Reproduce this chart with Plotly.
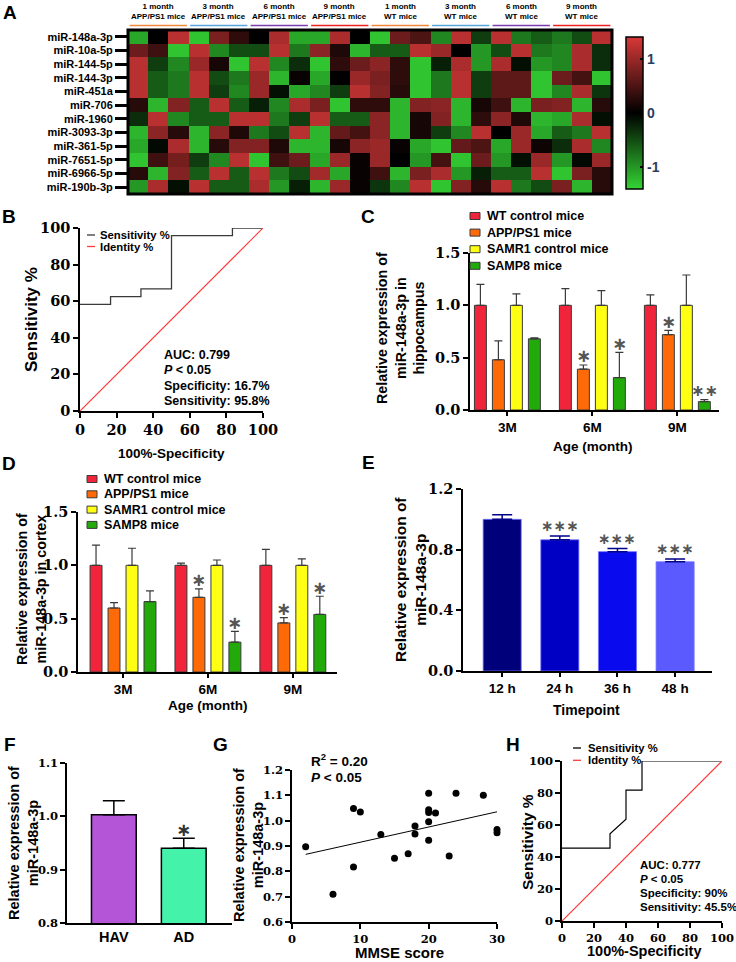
import plotly.graph_objects as go

# ---------------- data ----------------
heat_rows = ["miR-148a-3p", "miR-10a-5p", "miR-144-5p", "miR-144-3p", "miR-451a", "miR-706",
             "miR-1960", "miR-3093-3p", "miR-361-5p", "miR-7651-5p", "miR-6966-5p", "miR-190b-3p"]
heat_groups = ["1 month<br>APP/PS1 mice", "3 month<br>APP/PS1 mice", "6 month<br>APP/PS1 mice",
               "9 month<br>APP/PS1 mice", "1 month<br>WT mice", "3 month<br>WT mice",
               "6 month<br>WT mice", "9 month<br>WT mice"]
heat_group_colors = ["#f0883c", "#5aa4dc", "#7b3fae", "#ee2222",
                     "#f0883c", "#5aa4dc", "#7b3fae", "#ee2222"]
heat_values = [
    [-1.1, 0.0, 1.2, -1.3, 0.8, 0.3, 0.0, 1.1, -1.1, -1.1, 1.1, 0.0, -1.3, 0.7, 0.5, -0.9, 1.2, -0.4, 1.2, -0.8, -0.6, -0.8, -0.5, 1.2],
    [0.7, 0.4, -1.3, 1.2, -0.9, -0.5, -0.5, 1.2, -0.8, 0.9, 0.2, -1.2, -0.6, -0.6, 1.2, 1.0, 0.0, -1.0, -0.5, 1.2, -0.8, -0.9, 1.1, -0.3],
    [1.2, -0.4, -0.9, 1.0, 0.15, -1.3, 1.2, -0.9, -0.3, -1.3, 0.3, 0.7, 0.9, 0.3, -1.3, -0.2, 1.1, -1.0, 1.1, -0.1, -1.0, -0.9, 1.1, -0.3],
    [1.2, -0.6, -0.8, 1.2, -0.5, -0.8, 1.0, -1.2, 0.05, -1.1, 0.0, 1.0, 0.8, 0.3, -1.3, -0.8, 1.2, -0.4, 0.6, 0.6, -1.3, 0.7, 0.45, -1.3],
    [1.2, -0.6, -0.8, 1.2, -0.4, -0.9, 1.0, -0.1, -1.1, -0.9, -0.4, 1.2, 0.85, 0.25, -1.3, -0.8, 1.2, -0.4, 0.6, 0.6, -1.3, -0.9, 1.1, -0.35],
    [0.25, -1.2, 0.85, -0.6, 1.2, -0.6, -0.2, -0.9, 1.1, 0.8, -1.3, 0.3, 0.3, -1.2, 0.85, 0.9, -1.2, 0.15, 0.4, -1.2, 0.8, 0.85, -1.2, 0.25],
    [-0.3, 1.2, -0.9, -0.6, -0.6, 1.2, 1.2, -0.8, -0.4, 1.2, -0.6, -0.6, 0.9, -1.2, 0.15, 0.85, -1.2, 0.3, 0.9, 0.2, -1.2, -1.1, 1.1, -0.1],
    [-1.2, 0.9, 0.25, -1.2, 0.9, 0.2, -0.8, -0.5, 1.2, -1.2, 0.65, 0.45, 0.9, -1.2, 0.15, -0.4, -0.9, 1.2, 0.0, 1.0, -1.1, -0.6, -0.8, 1.2],
    [-1.1, -0.05, 1.1, -1.2, 0.25, 0.85, 0.85, 0.2, -1.2, -1.2, 0.15, 0.9, 1.0, 0.05, -1.1, -1.3, 0.65, 0.5, -1.1, 1.0, 0.1, -0.3, 1.1, -0.9],
    [-1.3, 0.4, 0.75, -0.4, -0.9, 1.2, -1.3, 0.4, 0.7, -1.1, 1.0, 0.05, 1.0, 0.0, -1.0, 0.45, -1.3, 0.7, -1.0, -0.1, 1.0, -1.0, -0.05, 1.0],
    [0.25, -1.2, 0.85, -0.6, 1.2, -0.6, 1.2, -0.8, -0.5, 1.05, -1.1, 0.05, 0.4, -1.2, 0.8, 1.1, -1.0, -0.2, -0.6, -0.6, 1.2, -1.3, 0.8, 0.25],
    [-1.0, 1.1, -0.1, 1.2, -0.6, -0.6, 1.1, -1.0, -0.2, -1.2, 1.0, 0.05, -0.35, -0.9, 1.2, -1.3, 0.85, 0.25, 1.2, -0.8, -0.5, 0.8, -1.2, 0.25],
]

roc_b_x = [0, 16.7, 16.7, 33.3, 33.3, 50, 50, 83.3, 83.3, 100]
roc_b_y = [58.3, 58.3, 62.5, 62.5, 66.7, 66.7, 95.8, 95.8, 100, 100]
identity = [0, 100]
roc_b_stats = ["AUC: 0.799", "<i>P</i> < 0.05", "Specificity: 16.7%", "Sensitivity: 95.8%"]

ages = ["3M", "6M", "9M"]
mouse_groups = ["WT control mice", "APP/PS1 mice", "SAMR1 control mice", "SAMP8 mice"]
mouse_colors = ["#f0243a", "#ff6a08", "#ffff14", "#22aa0a"]
hip_mean = [[1.0, 1.0, 1.0], [0.48, 0.39, 0.72], [1.0, 1.0, 1.0], [0.68, 0.31, 0.08]]
hip_err = [[0.20, 0.16, 0.10], [0.18, 0.04, 0.04], [0.11, 0.14, 0.29], [0.01, 0.24, 0.02]]
hip_stars = [["", "", ""], ["", "*", "*"], ["", "", ""], ["", "*", "**"]]
ctx_mean = [[1.0, 1.0, 1.0], [0.60, 0.70, 0.46], [1.0, 1.0, 1.0], [0.66, 0.28, 0.54]]
ctx_err = [[0.19, 0.02, 0.15], [0.05, 0.08, 0.05], [0.16, 0.05, 0.06], [0.10, 0.10, 0.17]]
ctx_stars = [["", "", ""], ["", "*", "*"], ["", "", ""], ["", "*", "*"]]

timepoints = ["12 h", "24 h", "36 h", "48 h"]
time_mean = [1.0, 0.865, 0.787, 0.72]
time_err = [0.03, 0.025, 0.02, 0.018]
time_colors = ["#00007a", "#0000c4", "#0a0aee", "#5a5aff"]
time_stars = ["", "***", "***", "***"]

cohorts = ["HAV", "AD"]
cohort_mean = [1.003, 0.94]
cohort_err = [0.026, 0.019]
cohort_colors = ["#b455d8", "#44f2aa"]
cohort_stars = ["", "*"]

mmse = [2, 6, 9, 9, 10, 13, 15, 17, 18, 18, 20, 20, 20, 20, 20, 21, 23, 24, 28, 30, 30]
expr = [0.897, 0.71, 1.048, 0.817, 1.034, 0.945, 0.852, 0.869, 0.979, 0.947, 1.108, 1.043,
        1.032, 0.996, 0.923, 1.03, 0.861, 1.108, 1.10, 0.965, 0.952]
fit_x = [2, 30]
fit_y = [0.867, 1.035]

roc_h_x = [0, 30, 30, 40, 40, 50, 50, 100]
roc_h_y = [45.5, 45.5, 54.5, 63.6, 81.8, 81.8, 100, 100]
roc_h_stats = ["AUC: 0.777", "<i>P</i> < 0.05", "Specificity: 90%", "Sensitivity: 45.5%"]

# ---------------- helpers ----------------
W, H = 736, 962
SANS = "Liberation Sans, Arial, sans-serif"
SERIF = "DejaVu Serif, serif"
STAR = "DejaVu Sans, sans-serif"


def dx(a, b):
    return [a / W, b / W]


def dy(top, bottom):
    return [1 - bottom / H, 1 - top / H]


def fx(x):
    return x / W


def fy(y):
    return 1 - y / H


def ann(text, x, y, size=12, xanchor="center", yanchor="middle", angle=0,
        color="black", family=SANS, align="center"):
    return dict(text=text, x=fx(x), y=fy(y), xref="paper", yref="paper",
                xanchor=xanchor, yanchor=yanchor, textangle=angle, showarrow=False,
                align=align, font=dict(family=family, size=size, color=color, weight="bold"))


def star(text, x, y, xref, yref, size=20, color="#555555", lift=9):
    return dict(text=text.replace("*", "\u2217"), x=x, y=y, xref=xref, yref=yref,
                xanchor="center", yanchor="middle", yshift=lift, showarrow=False,
                font=dict(family=STAR, size=size, color=color, weight="bold"))


def axis(**kw):
    d = dict(showline=True, linecolor="black", linewidth=1.5, ticks="outside", ticklen=5,
             tickwidth=1.5, tickcolor="black", showgrid=False, zeroline=False, fixedrange=True)
    d.update(kw)
    return d


fig = go.Figure()
annotations = []
shapes = []

# ---------------- A: heatmap ----------------
fig.add_trace(go.Heatmap(
    z=heat_values, x=list(range(24)), y=heat_rows,
    colorscale=[[0, "#34d434"], [0.5, "#000000"], [1, "#d83838"]],
    zmin=-1.4, zmax=1.4, xaxis="x", yaxis="y",
    colorbar=dict(x=fx(626), xanchor="left", y=fy(113), yanchor="middle",
                  len=152 / H, lenmode="fraction", thickness=17, thicknessmode="pixels",
                  outlinewidth=1.5, outlinecolor="black", xpad=0, ypad=0,
                  tickvals=[-1, 0, 1], ticktext=["-1", "0", "1"], ticks="inside",
                  ticklen=3, tickwidth=1.5, tickcolor="black",
                  tickfont=dict(family=SANS, size=14, weight="bold")),
))
shapes.append(dict(type="rect", xref="x domain", yref="y domain", x0=0, x1=1, y0=0, y1=1,
                   line=dict(color="black", width=3)))
for g, (lab, col) in enumerate(zip(heat_groups, heat_group_colors)):
    annotations.append(dict(text=lab, x=g * 3 + 1, y=fy(22.5), xref="x", yref="paper",
                            xanchor="center", yanchor="bottom", showarrow=False,
                            font=dict(family=SANS, size=8, color="black", weight="bold")))
    shapes.append(dict(type="line", xref="x", yref="paper", x0=g * 3 - 0.42, x1=g * 3 + 2.42,
                       y0=fy(25.5), y1=fy(25.5), line=dict(color=col, width=1.6)))
annotations.append(ann("A", 10, 13, size=19))

# ---------------- B: ROC ----------------
fig.add_trace(go.Scatter(x=roc_b_x, y=roc_b_y, mode="lines", line=dict(color="#3a3a3a", width=1.3),
                         xaxis="x2", yaxis="y2", cliponaxis=False, showlegend=False))
fig.add_trace(go.Scatter(x=identity, y=identity, mode="lines", line=dict(color="#ff3b3b", width=1.2),
                         xaxis="x2", yaxis="y2", cliponaxis=False, showlegend=False))
annotations.append(ann("B", 9, 216, size=19))
annotations.append(ann("Sensitivity %", 31, 320, size=17, angle=-90))
annotations.append(ann("100%-Specificity", 171, 453, size=13.5))
for i, t in enumerate(roc_b_stats):
    annotations.append(ann(t, 162, 355 + i * 15.3, size=12.5, xanchor="left"))
for i, (t, c) in enumerate(zip(["Sensitivity %", "Identity %"], ["#3a3a3a", "#ff3b3b"])):
    yy = 235 + i * 11.5
    shapes.append(dict(type="line", xref="paper", yref="paper", x0=fx(87), x1=fx(95),
                       y0=fy(yy), y1=fy(yy), line=dict(color=c, width=1.3)))
    annotations.append(ann(t, 98, yy, size=11.3, xanchor="left"))

# ---------------- C: hippocampus ----------------
slot = (1 - 0.153) / 4
for i, g in enumerate(mouse_groups):
    fig.add_trace(go.Bar(x=ages, y=hip_mean[i], name=g,
                         marker=dict(color=mouse_colors[i], line=dict(color="#3a3a3a", width=1)),
                         error_y=dict(type="data", array=hip_err[i], arrayminus=[0] * 3,
                                      symmetric=False, color="#3a3a3a", thickness=1.2, width=4),
                         xaxis="x3", yaxis="y3", showlegend=False))
    for k in range(3):
        if hip_stars[i][k]:
            annotations.append(star(hip_stars[i][k], k + (i - 1.5) * slot,
                                    hip_mean[i][k] + hip_err[i][k], "x3", "y3",
                                    size=18 if len(hip_stars[i][k]) == 1 else 16))
annotations.append(ann("C", 368, 216, size=19))
annotations.append(ann("Relative expression of<br>miR-148a-3p in<br>hippocampus", 400, 328,
                       size=14.3, angle=-90))
annotations.append(ann("Age (month)", 592, 446, size=13.5))
for i, (g, c) in enumerate(zip(mouse_groups, mouse_colors)):
    yy = 216 + i * 16.6
    shapes.append(dict(type="rect", xref="paper", yref="paper", x0=fx(470), x1=fx(480),
                       y0=fy(yy + 3.5), y1=fy(yy - 3.5), fillcolor=c,
                       line=dict(color="#3a3a3a", width=1)))
    annotations.append(ann(g, 485, yy, size=12.5, xanchor="left"))

# ---------------- D: cortex ----------------
for i, g in enumerate(mouse_groups):
    fig.add_trace(go.Bar(x=ages, y=ctx_mean[i], name=g,
                         marker=dict(color=mouse_colors[i], line=dict(color="#3a3a3a", width=1)),
                         error_y=dict(type="data", array=ctx_err[i], arrayminus=[0] * 3,
                                      symmetric=False, color="#3a3a3a", thickness=1.2, width=4),
                         xaxis="x4", yaxis="y4", showlegend=False))
    for k in range(3):
        if ctx_stars[i][k]:
            annotations.append(star(ctx_stars[i][k], k + (i - 1.5) * slot,
                                    ctx_mean[i][k] + ctx_err[i][k], "x4", "y4", size=18))
annotations.append(ann("D", 9, 463, size=19))
annotations.append(ann("Relative expression of<br>miR-148a-3p in cortex", 31, 589,
                       size=14.3, angle=-90))
annotations.append(ann("Age (month)", 208, 705, size=13.5))
for i, (g, c) in enumerate(zip(mouse_groups, mouse_colors)):
    yy = 479 + i * 15.3
    shapes.append(dict(type="rect", xref="paper", yref="paper", x0=fx(87), x1=fx(97),
                       y0=fy(yy + 3.5), y1=fy(yy - 3.5), fillcolor=c,
                       line=dict(color="#3a3a3a", width=1)))
    annotations.append(ann(g, 102, yy, size=12.5, xanchor="left"))

# ---------------- E: timepoints ----------------
fig.add_trace(go.Bar(x=timepoints, y=time_mean, width=0.66,
                     marker=dict(color=time_colors, line=dict(color="#7070ff", width=0.8)),
                     error_y=dict(type="data", array=time_err, arrayminus=[0] * 4, symmetric=False,
                                  color="#00008a", thickness=1.5, width=10),
                     xaxis="x5", yaxis="y5", showlegend=False))
for k, s in enumerate(time_stars):
    if s:
        annotations.append(star(s, k, time_mean[k] + time_err[k], "x5", "y5", size=15, lift=10))
annotations.append(ann("E", 368, 462, size=19))
annotations.append(ann("Relative expression of<br>miR-148a-3p", 410, 580, size=15.5, angle=-90))
annotations.append(ann("Timepoint", 586, 710, size=14))

# ---------------- F: cohort ----------------
fig.add_trace(go.Bar(x=cohorts, y=cohort_mean, width=0.64,
                     marker=dict(color=cohort_colors, line=dict(color="black", width=1.5)),
                     error_y=dict(type="data", array=cohort_err, arrayminus=[0] * 2, symmetric=False,
                                  color="black", thickness=1.5, width=11),
                     xaxis="x6", yaxis="y6", showlegend=False))
for k, s in enumerate(cohort_stars):
    if s:
        annotations.append(star(s, k, cohort_mean[k] + cohort_err[k], "x6", "y6",
                                size=18, color="#333333"))
annotations.append(ann("F", 10, 744, size=19))
annotations.append(ann("Relative expression of<br>miR-148a-3p", 23, 843, size=14.5, angle=-90))

# ---------------- G: correlation ----------------
fig.add_trace(go.Scatter(x=fit_x, y=fit_y, mode="lines", line=dict(color="black", width=1),
                         xaxis="x7", yaxis="y7", showlegend=False))
fig.add_trace(go.Scatter(x=mmse, y=expr, mode="markers", marker=dict(color="black", size=7),
                         xaxis="x7", yaxis="y7", showlegend=False, cliponaxis=False))
annotations.append(ann("G", 220, 744, size=19))
annotations.append(ann("Relative expression of<br>miR-148a-3p", 248, 845, size=14.5, angle=-90))
annotations.append(ann("R<sup>2</sup> = 0.20", 309, 760, size=13.5, xanchor="left"))
annotations.append(ann("<i>P</i> < 0.05", 309, 777, size=13.5, xanchor="left"))
annotations.append(ann("MMSE score", 399, 952, size=15))

# ---------------- H: ROC ----------------
fig.add_trace(go.Scatter(x=roc_h_x, y=roc_h_y, mode="lines", line=dict(color="black", width=1.2),
                         xaxis="x8", yaxis="y8", cliponaxis=False, showlegend=False))
fig.add_trace(go.Scatter(x=identity, y=identity, mode="lines", line=dict(color="#ff3b3b", width=1.2),
                         xaxis="x8", yaxis="y8", cliponaxis=False, showlegend=False))
annotations.append(ann("H", 513, 744, size=19))
annotations.append(ann("Sensitivity %", 527, 842, size=15.5, angle=-90))
annotations.append(ann("100%-Specificity", 644, 951, size=14.5))
for i, t in enumerate(roc_h_stats):
    annotations.append(ann(t, 638, 865 + i * 14, size=11.5, xanchor="left"))
for i, (t, c) in enumerate(zip(["Sensitivity %", "Identity %"], ["black", "#ff3b3b"])):
    yy = 748 + i * 12.3
    shapes.append(dict(type="line", xref="paper", yref="paper", x0=fx(573), x1=fx(581),
                       y0=fy(yy), y1=fy(yy), line=dict(color=c, width=1.3)))
    annotations.append(ann(t, 586, yy, size=11.3, xanchor="left"))

# ---------------- layout ----------------
serif_big = dict(family=SERIF, size=14.5, color="black", weight="bold")
serif_small = dict(family=SERIF, size=11.5, color="black", weight="bold")
sans_cat = dict(family=SANS, size=13.5, color="black", weight="bold")

fig.update_layout(
    width=W, height=H, margin=dict(l=0, r=0, t=0, b=0, autoexpand=False),
    paper_bgcolor="white", plot_bgcolor="white",
    barmode="group", bargap=0.153, bargroupgap=0.335,
    showlegend=False,
    annotations=annotations, shapes=shapes,
    xaxis=dict(domain=dx(128, 612), range=[-0.5, 23.5], showticklabels=False, showgrid=False,
               zeroline=False, showline=False, ticks="", fixedrange=True),
    yaxis=dict(domain=dy(30, 194), autorange="reversed", showgrid=False, zeroline=False,
               showline=False, ticks="outside", ticklen=12, tickwidth=2.5, tickcolor="black",
               tickfont=dict(family=SANS, size=11, color="black", weight="bold"), fixedrange=True),
    xaxis2=axis(domain=dx(80, 263), range=[0, 100], tickvals=[0, 20, 40, 60, 80, 100],
                tickfont=serif_big, anchor="y2"),
    yaxis2=axis(domain=dy(228, 411), range=[0, 100], tickvals=[0, 20, 40, 60, 80, 100],
                tickfont=serif_big, anchor="x2"),
    xaxis3=axis(domain=dx(470, 719), range=[-0.44, 2.49], tickfont=sans_cat, anchor="y3", ticklen=4),
    yaxis3=axis(domain=dy(253, 410), range=[0, 1.5], tickvals=[0, 0.5, 1.0, 1.5],
                ticktext=["0.0", "0.5", "1.0", "1.5"], tickfont=serif_big, anchor="x3"),
    xaxis4=axis(domain=dx(78, 337), range=[-0.53, 2.52], tickfont=sans_cat, anchor="y4", ticklen=4),
    yaxis4=axis(domain=dy(512, 672), range=[0, 1.5], tickvals=[0, 0.5, 1.0, 1.5],
                ticktext=["0.0", "0.5", "1.0", "1.5"], tickfont=serif_big, anchor="x4"),
    xaxis5=axis(domain=dx(463, 712), range=[-0.68, 3.64], tickfont=sans_cat, anchor="y5", ticklen=4),
    yaxis5=axis(domain=dy(489, 671), range=[0, 1.2], tickvals=[0, 0.4, 0.8, 1.2],
                ticktext=["0.0", "0.4", "0.8", "1.2"], tickfont=serif_big, anchor="x5"),
    xaxis6=axis(domain=dx(67, 232), range=[-0.67, 1.69],
                tickfont=dict(family=SANS, size=14.5, weight="bold", color="black"),
                anchor="y6", ticks="", ticklen=0),
    yaxis6=axis(domain=dy(763, 923), range=[0.8, 1.1], tickvals=[0.8, 0.9, 1.0, 1.1],
                ticktext=["0.8", "0.9", "1.0", "1.1"], tickfont=serif_small, anchor="x6"),
    xaxis7=axis(domain=dx(292, 497), range=[0, 30], tickvals=[0, 10, 20, 30],
                tickfont=serif_small, anchor="y7"),
    yaxis7=axis(domain=dy(770, 922), range=[0.6, 1.2],
                tickvals=[0.6, 0.7, 0.8, 0.9, 1.0, 1.1, 1.2],
                ticktext=["0.6", "0.7", "0.8", "0.9", "1.0", "1.1", "1.2"],
                tickfont=serif_small, anchor="x7"),
    xaxis8=axis(domain=dx(562, 722), range=[0, 100], tickvals=[0, 20, 40, 60, 80, 100],
                tickfont=serif_small, anchor="y8"),
    yaxis8=axis(domain=dy(761, 921), range=[0, 100], tickvals=[0, 20, 40, 60, 80, 100],
                tickfont=serif_small, anchor="x8"),
)

# remove the browser's default 8px page margin so the figure sits at the window origin
fig.write_html("out.html", config={"displayModeBar": False},
               post_script="document.body.style.margin='0';document.body.style.padding='0';")
